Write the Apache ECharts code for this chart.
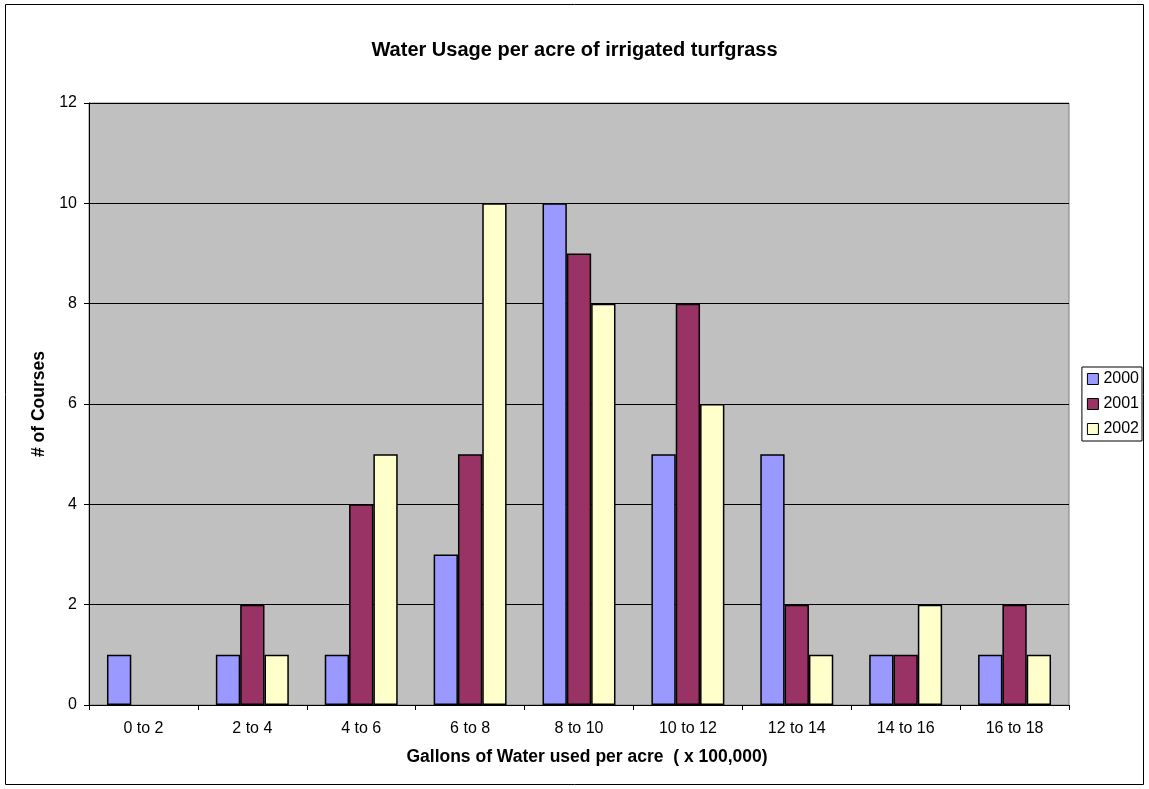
<!DOCTYPE html>
<html><head><meta charset="utf-8">
<script src="https://cdn.jsdelivr.net/npm/echarts@6/dist/echarts.min.js"></script>
<style>html,body{margin:0;padding:0;background:#fff}#c{width:1149px;height:789px}</style>
</head><body><div id="c"></div>
<script>
const categories = ['0 to 2','2 to 4','4 to 6','6 to 8','8 to 10','10 to 12','12 to 14','14 to 16','16 to 18'];
const s2000 = [1,1,1,3,10,5,5,1,1];
const s2001 = [0,2,4,5,9,8,2,1,2];
const s2002 = [0,1,5,10,8,6,1,2,1];
const yTicks = [0,2,4,6,8,10,12];
const font = 'Liberation Sans, Arial, sans-serif';
const chart = echarts.init(document.getElementById('c'), null, {renderer:'canvas'});
function ser(name, data, color){
  return {name, type:'bar', data:data.map(v => v === 0 ? null : v), barGap:'0%', barCategoryGap:'33%',
    itemStyle:{color, borderColor:'#000', borderWidth:1.5}};
}
chart.setOption({
  animation:false,
  backgroundColor:'#fff',
  title:{text:'Water Usage per acre of irrigated turfgrass', left:'center', top:35, padding:[5,5,5,17],
    textStyle:{fontFamily:font, fontSize:20, fontWeight:'bold', color:'#000'}},
  grid:{left:89, top:103, right:80, bottom:84, show:true, backgroundColor:'#C0C0C0', borderColor:'#808080', borderWidth:1},
  legend:{orient:'vertical', right:7, top:367, itemWidth:11, itemHeight:11, itemGap:9,
    padding:[4,3,4,5],
    borderColor:'#000', borderWidth:1, icon:'rect',
    textStyle:{fontFamily:font, fontSize:16, color:'#000'},
    itemStyle:{borderColor:'#000', borderWidth:1},
    data:['2000','2001','2002']},
  xAxis:{type:'category', data:categories,
    name:'Gallons of Water used per acre  ( x 100,000)', nameLocation:'middle', nameGap:43,
    nameTextStyle:{fontFamily:font, fontSize:17.5, fontWeight:'bold', color:'#000', padding:[0,0,0,16]},
    axisLine:{lineStyle:{color:'#000', width:1}},
    axisTick:{show:true, length:5, lineStyle:{color:'#000'}},
    axisLabel:{fontFamily:font, fontSize:16, color:'#000', margin:16},
    splitLine:{show:false}},
  yAxis:{type:'value', min:0, max:12, interval:2,
    name:'# of Courses', nameLocation:'middle', nameGap:36, nameRotate:90,
    nameTextStyle:{fontFamily:font, fontSize:17.5, fontWeight:'bold', color:'#000'},
    axisLine:{show:true, lineStyle:{color:'#000'}},
    axisTick:{show:true, length:5, lineStyle:{color:'#000'}},
    axisLabel:{fontFamily:font, fontSize:16, color:'#000', margin:12,
      formatter:v=>yTicks.includes(v)?String(v):''},
    splitLine:{show:true, lineStyle:{color:'#000', width:1}}},
  graphic:[{type:'rect', shape:{x:5.5, y:4.5, width:1138, height:780}, style:{fill:'none', stroke:'#000', lineWidth:1}, silent:true}],
  series:[ser('2000', s2000, '#9999FF'), ser('2001', s2001, '#993366'), ser('2002', s2002, '#FFFFCC')]
});
</script></body></html>
